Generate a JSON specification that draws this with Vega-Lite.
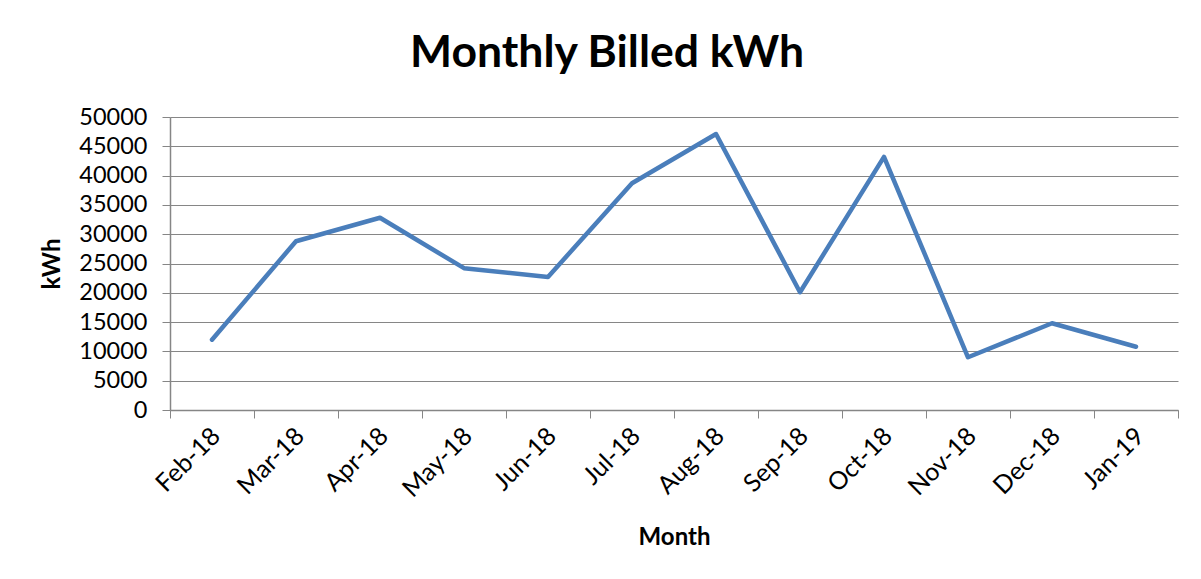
{
  "$schema": "https://vega.github.io/schema/vega-lite/v6.json",
  "width": 1008,
  "height": 293,
  "autosize": {"type": "none"},
  "padding": {"left": 170, "top": 117, "right": 23, "bottom": 169},
  "background": "white",
  "title": {
    "text": "Monthly Billed kWh",
    "font": "Lato",
    "fontSize": 44.5,
    "fontWeight": "bold",
    "color": "#000000",
    "anchor": "middle",
    "dx": -67,
    "offset": 29
  },
  "config": {
    "view": {"stroke": null},
    "axis": {"labelFont": "Lato", "titleFont": "Lato", "labelColor": "#000000", "titleColor": "#000000"}
  },
  "data": {
    "values": [
      {"month": "Feb-18", "kwh": 12000},
      {"month": "Mar-18", "kwh": 28800},
      {"month": "Apr-18", "kwh": 32800},
      {"month": "May-18", "kwh": 24200},
      {"month": "Jun-18", "kwh": 22700},
      {"month": "Jul-18", "kwh": 38700},
      {"month": "Aug-18", "kwh": 47100},
      {"month": "Sep-18", "kwh": 20100},
      {"month": "Oct-18", "kwh": 43200},
      {"month": "Nov-18", "kwh": 9000},
      {"month": "Dec-18", "kwh": 14800},
      {"month": "Jan-19", "kwh": 10800}
    ]
  },
  "mark": {"type": "line", "color": "#4a7ebb", "strokeWidth": 4.5, "strokeJoin": "round", "strokeCap": "round"},
  "encoding": {
    "x": {
      "field": "month",
      "type": "ordinal",
      "sort": null,
      "bandPosition": 0.5,
      "scale": {"type": "band", "paddingInner": 0, "paddingOuter": 0},
      "axis": {
        "title": "Month",
        "titleFontSize": 24,
        "titleFontWeight": "bold",
        "titlePadding": 24,
        "labelAngle": -45,
        "labelFontSize": 25,
        "labelPadding": 5,
        "labelOffset": -5,
        "tickBand": "extent",
        "tickSize": 8,
        "tickColor": "#868686",
        "domainColor": "#868686",
        "domainWidth": 1.5,
        "grid": false
      }
    },
    "y": {
      "field": "kwh",
      "type": "quantitative",
      "scale": {"domain": [0, 50000], "nice": false},
      "axis": {
        "title": "kWh",
        "titleFontSize": 24,
        "titleFontWeight": "bold",
        "titlePadding": 14,
        "values": [0, 5000, 10000, 15000, 20000, 25000, 30000, 35000, 40000, 45000, 50000],
        "format": "d",
        "labelFontSize": 23.5,
        "labelPadding": 15,
        "tickSize": 8,
        "tickColor": "#868686",
        "domainColor": "#868686",
        "domainWidth": 1.5,
        "gridColor": "#868686",
        "gridWidth": 1,
        "grid": true
      }
    }
  }
}
